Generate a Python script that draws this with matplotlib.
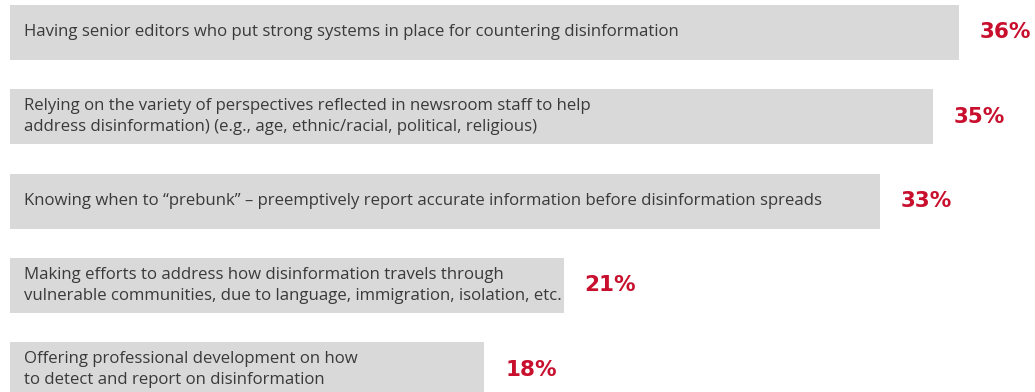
import matplotlib
matplotlib.use("Agg")
import matplotlib.pyplot as plt

categories = [
    "Having senior editors who put strong systems in place for countering disinformation",
    "Relying on the variety of perspectives reflected in newsroom staff to help\naddress disinformation) (e.g., age, ethnic/racial, political, religious)",
    "Knowing when to \u201cprebunk\u201d \u2013 preemptively report accurate information before disinformation spreads",
    "Making efforts to address how disinformation travels through\nvulnerable communities, due to language, immigration, isolation, etc.",
    "Offering professional development on how\nto detect and report on disinformation",
]
values = [36, 35, 33, 21, 18]
value_labels = ["36%", "35%", "33%", "21%", "18%"]

W, H = 1035, 392
fig = plt.figure(figsize=(W / 100, H / 100), dpi=100)
ax = fig.add_axes([0, 0, 1, 1])
scale = 26.36
x0 = 10
ax.set_xlim(-x0 / scale, (W - x0) / scale)
spacing = 84.25
c0 = 32.5
ax.set_ylim((H - c0) / spacing, -c0 / spacing)
ax.axis("off")

ys = list(range(len(values)))
ax.barh(ys, values, height=55 / spacing, left=0, color="#d9d9d9", edgecolor="none")
for y, v, cat, lab in zip(ys, values, categories, value_labels):
    ax.text(14 / scale, y, cat, ha="left", va="center", fontsize=12.1, family="Open Sans",
            color="#3a3a3a", linespacing=1.4)
    ax.text(v + 21 / scale, y, lab, ha="left", va="center", fontsize=15.5, family="DejaVu Sans",
            fontweight="bold", color="#c8102e")

fig.savefig("out.png", dpi=100)
